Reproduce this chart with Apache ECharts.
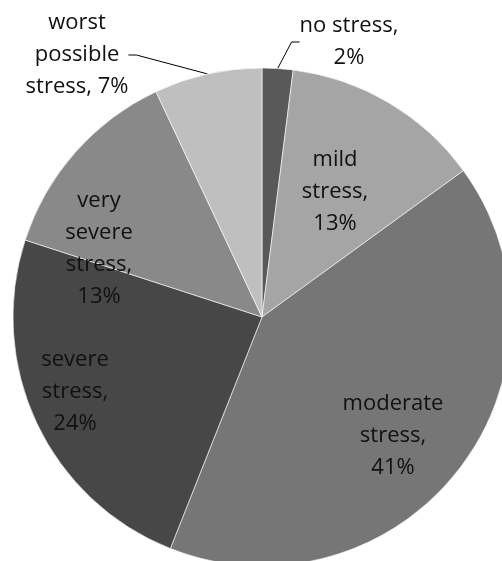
<!DOCTYPE html>
<html>
<head>
<meta charset="utf-8">
<script src="https://cdn.jsdelivr.net/npm/echarts@6/dist/echarts.min.js"></script>
<style>
  html, body { margin: 0; padding: 0; background: #fff; }
  #chart { width: 502px; height: 561px; }
</style>
</head>
<body>
<div id="chart"></div>
<script>
// stress levels, clockwise from 12 o'clock
const categories = ['no stress', 'mild stress', 'moderate stress', 'severe stress', 'very severe stress', 'worst possible stress']
const percents = [2, 13, 41, 24, 13, 7]
// how each label wraps in the original
const labelText = ['no stress,\n2%', 'mild\nstress,\n13%', 'moderate\nstress,\n41%', 'severe\nstress,\n24%', 'very\nsevere\nstress,\n13%', 'worst\npossible\nstress, 7%']

const colors = ['#595959', '#a5a5a5', '#767676', '#474747', '#898989', '#bfbfbf']
// label centres, matching the reference's best-fit placement
const labelPos = [[349, 42], [335, 192], [393, 436], [75, 392], [99, 249], [77, 55]]
const outside = [true, false, false, false, false, true]

const chart = echarts.init(document.getElementById('chart'))
chart.setOption({
  animation: false,
  series: [{
    type: 'pie',
    center: [262, 317],
    radius: 249,
    startAngle: 90,
    clockwise: true,
    data: categories.map((name, i) => ({
      name,
      value: percents[i],
      itemStyle: { color: colors[i] },
      label: { position: outside[i] ? 'outside' : 'inside' },
      labelLine: { show: outside[i], length: 10, length2: 8 }
    })),
    itemStyle: { borderColor: '#ffffff', borderWidth: 0.6 },
    label: {
      show: true,
      formatter: (p) => labelText[p.dataIndex],
      fontFamily: 'Open Sans',
      fontSize: 22,
      lineHeight: 32,
      color: '#111',
      align: 'center'
    },
    labelLine: { lineStyle: { color: '#000', width: 1 } },
    labelLayout: (p) => ({
      x: labelPos[p.dataIndex][0],
      y: labelPos[p.dataIndex][1],
      align: 'center',
      verticalAlign: 'middle'
    })
  }]
})
</script>
</body>
</html>
